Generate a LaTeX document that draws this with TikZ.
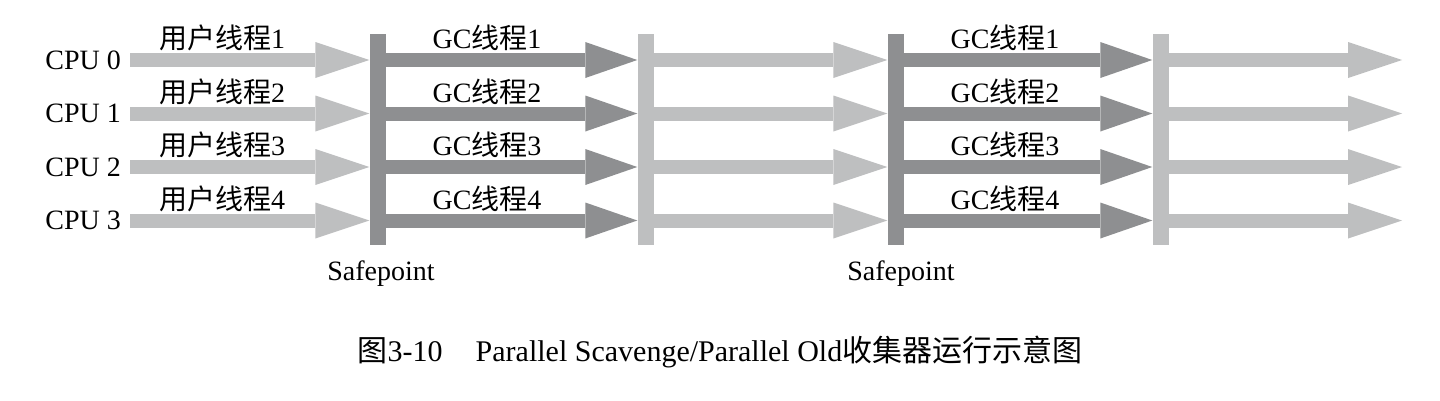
\documentclass[tikz,border=0pt]{standalone}
\usepackage{fontspec}
\setmainfont{Liberation Serif}
\newfontfamily\cjk{Noto Sans CJK SC}
\usetikzlibrary{arrows.meta}
\definecolor{lightgc}{HTML}{BEBFC0}
\definecolor{darkgc}{HTML}{8E8F91}
\tikzset{
  lightflow/.style={draw=lightgc, line width=14pt, -{Triangle[length=54pt,width=36pt,line width=0pt]}},
  darkflow/.style={draw=darkgc, line width=14pt, -{Triangle[length=52pt,width=36pt,line width=0pt]}},
  barnode/.style={rectangle, inner sep=0pt, minimum width=16pt, minimum height=211pt},
  lbl/.style={inner sep=0pt, font=\fontsize{28}{30}\selectfont}
}
\begin{document}
\begin{tikzpicture}[x=1pt, y=-1pt]
  \useasboundingbox (0,0) rectangle (1440,400);
  \node[barnode, fill=darkgc] (sp1) at (377.5,139.5) {};
  \node[barnode, fill=lightgc] (mid1) at (645.5,139.5) {};
  \node[barnode, fill=darkgc] (sp2) at (895.5,139.5) {};
  \node[barnode, fill=lightgc] (mid2) at (1160.5,139.5) {};
  \node[lbl] (sp1lbl) at (381,274) {Safepoint};
  \node[lbl] (sp2lbl) at (901,274) {Safepoint};
  \foreach \i/\y in {0/60,1/113.5,2/167,3/220.5} {
    \pgfmathtruncatemacro\n{\i+1}
    \node[lbl, anchor=east] (cpu\i) at (121,\y) {CPU \i};
    \node[lbl] (user\i) at (222,\y-22) {{\cjk 用户线程}\n};
    \node[lbl] (gca\i) at (487,\y-22) {GC{\cjk 线程}\n};
    \node[lbl] (gcb\i) at (1005,\y-22) {GC{\cjk 线程}\n};
    \coordinate (end\i) at (1402,\y);
    \draw[lightflow] ([xshift=9pt]cpu\i.east) -- (cpu\i.east -| sp1.west);
    \draw[darkflow] (cpu\i.east -| sp1.east) -- (cpu\i.east -| mid1.west);
    \draw[lightflow] (cpu\i.east -| mid1.east) -- (cpu\i.east -| sp2.west);
    \draw[darkflow] (cpu\i.east -| sp2.east) -- (cpu\i.east -| mid2.west);
    \draw[lightflow] (cpu\i.east -| mid2.east) -- (end\i);
  }
  \node[lbl, font=\fontsize{30}{32}\selectfont] (caption) at (720,352)
    {{\cjk 图}3-10\hspace{1.1em}Parallel Scavenge/Parallel Old{\cjk 收集器运行示意图}};
\end{tikzpicture}
\end{document}
